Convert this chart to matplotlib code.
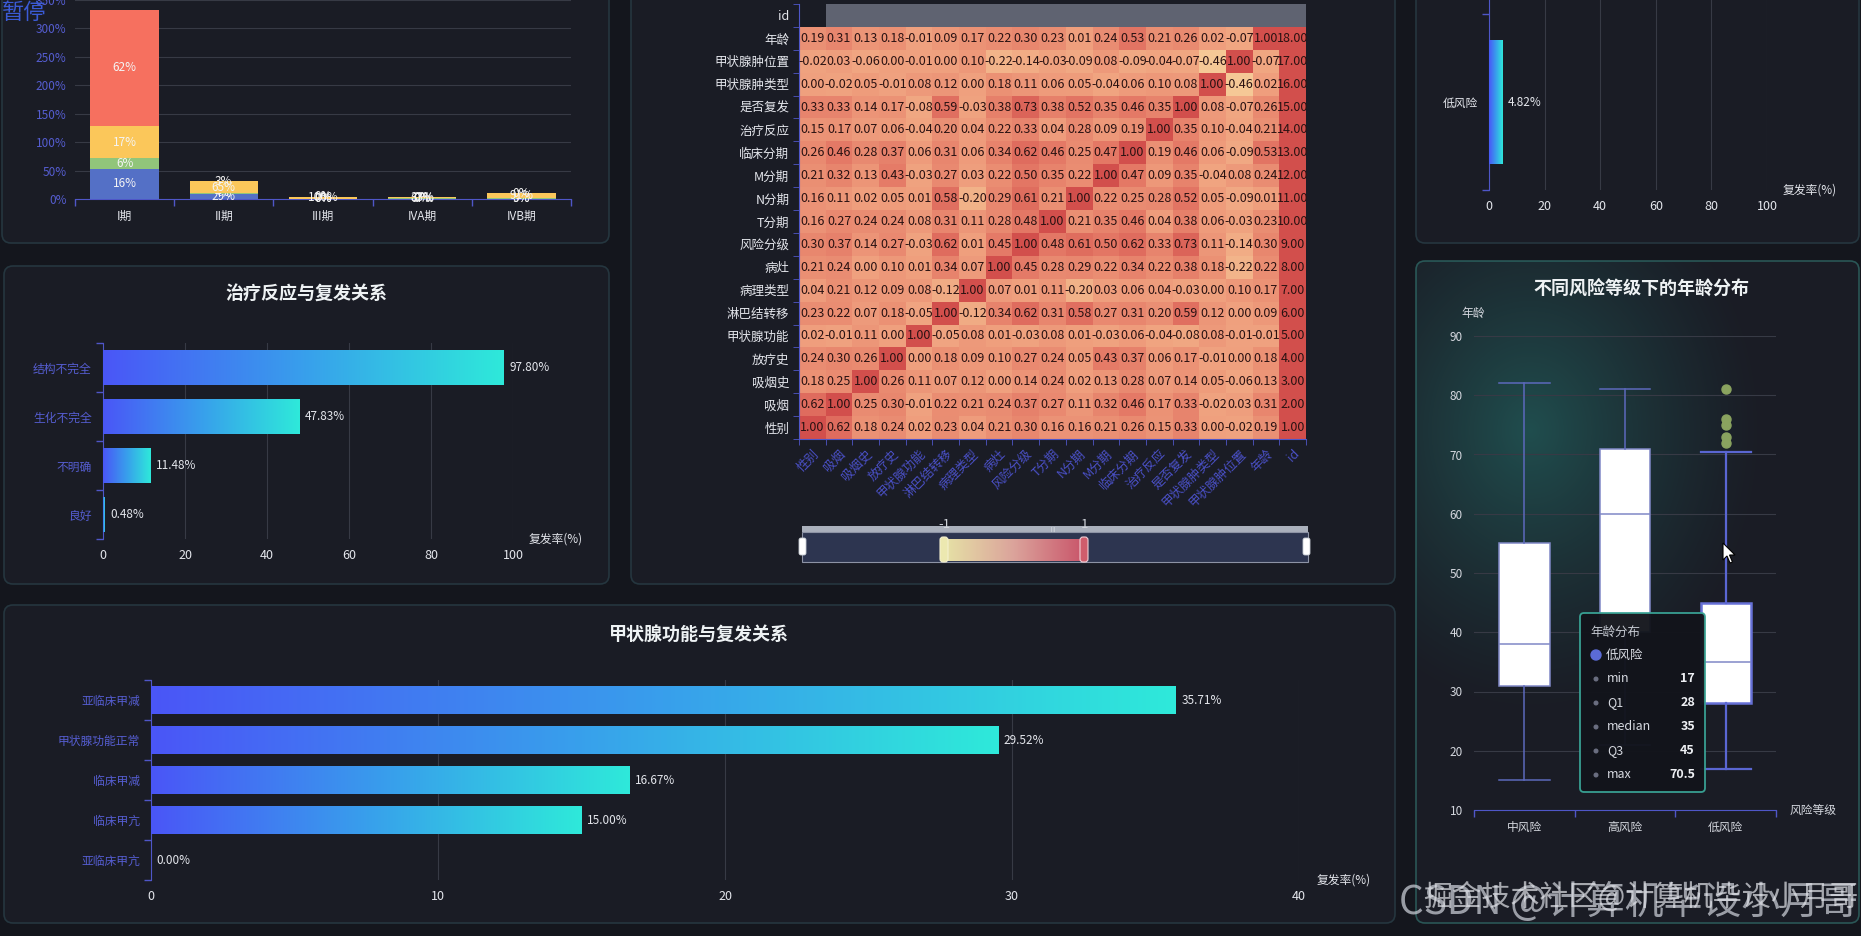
import numpy as np
import matplotlib
matplotlib.use('Agg')
import matplotlib.pyplot as plt
from matplotlib.patches import FancyBboxPatch, Rectangle, Polygon, Circle
from matplotlib.colors import LinearSegmentedColormap, ListedColormap, to_rgb

plt.rcParams['font.family'] = ['Noto Sans CJK SC', 'DejaVu Sans']
plt.rcParams['axes.unicode_minus'] = False

# ---- data ----
stages = ['I期', 'II期', 'III期', 'IVA期', 'IVB期']
seg_1 = [53, 9.1, 0, 0, 0]
seg_2 = [19, 1.2, 0, 2.0, 0.9]
seg_3 = [56, 20.5, 4.0, 1.0, 9.6]
seg_4 = [205, 0.8, 0, 0, 0]

response_cats = ['良好', '不明确', '生化不完全', '结构不完全']
response_rate = [0.48, 11.48, 47.83, 97.80]

thyroid_cats = ['亚临床甲亢', '临床甲亢', '临床甲减', '甲状腺功能正常', '亚临床甲减']
thyroid_rate = [0.00, 15.00, 16.67, 29.52, 35.71]

risk_rate_cats = ['低风险']
risk_rate = [4.82]

features = ['性别', '吸烟', '吸烟史', '放疗史', '甲状腺功能', '淋巴结转移', '病理类型', '病灶',
            '风险分级', 'T分期', 'N分期', 'M分期', '临床分期', '治疗反应', '是否复发',
            '甲状腺肿类型', '甲状腺肿位置', '年龄', 'id']
corr = [
    [1.00, 0.62, 0.18, 0.24, 0.02, 0.23, 0.04, 0.21, 0.30, 0.16, 0.16, 0.21, 0.26, 0.15, 0.33, 0.00, -0.02, 0.19, 1.00],
    [0.62, 1.00, 0.25, 0.30, -0.01, 0.22, 0.21, 0.24, 0.37, 0.27, 0.11, 0.32, 0.46, 0.17, 0.33, -0.02, 0.03, 0.31, 2.00],
    [0.18, 0.25, 1.00, 0.26, 0.11, 0.07, 0.12, 0.00, 0.14, 0.24, 0.02, 0.13, 0.28, 0.07, 0.14, 0.05, -0.06, 0.13, 3.00],
    [0.24, 0.30, 0.26, 1.00, 0.00, 0.18, 0.09, 0.10, 0.27, 0.24, 0.05, 0.43, 0.37, 0.06, 0.17, -0.01, 0.00, 0.18, 4.00],
    [0.02, -0.01, 0.11, 0.00, 1.00, -0.05, 0.08, 0.01, -0.03, 0.08, 0.01, -0.03, 0.06, -0.04, -0.08, 0.08, -0.01, -0.01, 5.00],
    [0.23, 0.22, 0.07, 0.18, -0.05, 1.00, -0.12, 0.34, 0.62, 0.31, 0.58, 0.27, 0.31, 0.20, 0.59, 0.12, 0.00, 0.09, 6.00],
    [0.04, 0.21, 0.12, 0.09, 0.08, -0.12, 1.00, 0.07, 0.01, 0.11, -0.20, 0.03, 0.06, 0.04, -0.03, 0.00, 0.10, 0.17, 7.00],
    [0.21, 0.24, 0.00, 0.10, 0.01, 0.34, 0.07, 1.00, 0.45, 0.28, 0.29, 0.22, 0.34, 0.22, 0.38, 0.18, -0.22, 0.22, 8.00],
    [0.30, 0.37, 0.14, 0.27, -0.03, 0.62, 0.01, 0.45, 1.00, 0.48, 0.61, 0.50, 0.62, 0.33, 0.73, 0.11, -0.14, 0.30, 9.00],
    [0.16, 0.27, 0.24, 0.24, 0.08, 0.31, 0.11, 0.28, 0.48, 1.00, 0.21, 0.35, 0.46, 0.04, 0.38, 0.06, -0.03, 0.23, 10.00],
    [0.16, 0.11, 0.02, 0.05, 0.01, 0.58, -0.20, 0.29, 0.61, 0.21, 1.00, 0.22, 0.25, 0.28, 0.52, 0.05, -0.09, 0.01, 11.00],
    [0.21, 0.32, 0.13, 0.43, -0.03, 0.27, 0.03, 0.22, 0.50, 0.35, 0.22, 1.00, 0.47, 0.09, 0.35, -0.04, 0.08, 0.24, 12.00],
    [0.26, 0.46, 0.28, 0.37, 0.06, 0.31, 0.06, 0.34, 0.62, 0.46, 0.25, 0.47, 1.00, 0.19, 0.46, 0.06, -0.09, 0.53, 13.00],
    [0.15, 0.17, 0.07, 0.06, -0.04, 0.20, 0.04, 0.22, 0.33, 0.04, 0.28, 0.09, 0.19, 1.00, 0.35, 0.10, -0.04, 0.21, 14.00],
    [0.33, 0.33, 0.14, 0.17, -0.08, 0.59, -0.03, 0.38, 0.73, 0.38, 0.52, 0.35, 0.46, 0.35, 1.00, 0.08, -0.07, 0.26, 15.00],
    [0.00, -0.02, 0.05, -0.01, 0.08, 0.12, 0.00, 0.18, 0.11, 0.06, 0.05, -0.04, 0.06, 0.10, 0.08, 1.00, -0.46, 0.02, 16.00],
    [-0.02, 0.03, -0.06, 0.00, -0.01, 0.00, 0.10, -0.22, -0.14, -0.03, -0.09, 0.08, -0.09, -0.04, -0.07, -0.46, 1.00, -0.07, 17.00],
    [0.19, 0.31, 0.13, 0.18, -0.01, 0.09, 0.17, 0.22, 0.30, 0.23, 0.01, 0.24, 0.53, 0.21, 0.26, 0.02, -0.07, 1.00, 18.00],
]
id_row_shade = [0] + [1] * 18

box_cats = ['中风险', '高风险', '低风险']
box_min = [15, 21, 17]
box_q1 = [31, 40, 28]
box_median = [38, 60, 35]
box_q3 = [55, 71, 45]
box_max = [82, 81, 70.5]
box_outliers = [[], [], [72, 73, 75, 76, 81]]

# ---- styling ----
W, H = 1861, 936
BG = '#14161d'
PANEL = '#1a1c25'
EDGE = '#25363f'
AXIS_BLUE = '#4f56c8'
LABEL_BLUE = '#555dd0'
GRID = '#373a45'
TXT = '#e4e6ec'
seg_colors = ['#5470c6', '#91c57a', '#fbc75a', '#f6705f']

bar_cmap = LinearSegmentedColormap.from_list('bar', ['#4a56f7', '#389fec', '#2ee9da'])
heat_cmap = LinearSegmentedColormap.from_list('heat', ['#f7eeb0', '#f5cc98', '#efa07e', '#e37664', '#d24f4c'])
slider_cmap = LinearSegmentedColormap.from_list('sl', ['#e6e2a6', '#dba39b', '#c9556a'])
grad = np.linspace(0, 1, 256).reshape(1, -1)


def rect(x0, y0, x1, y1):
    return [x0 / W, 1 - y1 / H, (x1 - x0) / W, (y1 - y0) / H]


fig = plt.figure(figsize=(W / 100, H / 100), dpi=100, facecolor=BG)

bg = fig.add_axes([0, 0, 1, 1])
bg.set_xlim(0, W)
bg.set_ylim(H, 0)
bg.set_autoscale_on(False)
bg.axis('off')

panels = [(2, -20, 609, 243), (4, 266, 609, 584), (4, 605, 1395, 923),
          (631, -20, 1395, 584), (1416, -20, 1859, 243), (1416, 261, 1859, 923)]
patches = []
for x0, y0, x1, y1 in panels:
    p = FancyBboxPatch((x0, y0), x1 - x0, y1 - y0, boxstyle='round,pad=0,rounding_size=9',
                       fc=PANEL, ec=EDGE, lw=1.2)
    bg.add_patch(p)
    patches.append(p)
patches[-1].set_edgecolor('#2a5656')

# teal glow in the box plot panel
yy, xx = np.mgrid[261:923, 1416:1859]
d = np.hypot((xx - 1530) / 240, (yy - 430) / 290)
glow = np.zeros(xx.shape + (4,))
glow[..., :3] = to_rgb('#268078')
glow[..., 3] = np.clip(1 - d, 0, 1) ** 1.3 * 0.5
im = bg.imshow(glow, extent=(1416, 1859, 923, 261), zorder=1)
im.set_clip_path(patches[-1])

# titles
for (x, y, t) in [(306, 293, '治疗反应与复发关系'), (699, 634, '甲状腺功能与复发关系'),
                  (1641, 289, '不同风险等级下的年龄分布')]:
    bg.text(x, y, t, ha='center', va='center', color='#eef2f4', fontsize=13, fontweight='bold', zorder=3)


def style_cat_axis(ax, n, axis='y'):
    bounds = np.arange(n + 1) - 0.5
    if axis == 'y':
        ax.set_yticks(bounds, minor=True)
        ax.tick_params(axis='y', which='minor', length=5, color=AXIS_BLUE, width=1)
        ax.tick_params(axis='y', which='major', length=0, pad=8)
    else:
        ax.set_xticks(bounds, minor=True)
        ax.tick_params(axis='x', which='minor', length=5, color=AXIS_BLUE, width=1)
        ax.tick_params(axis='x', which='major', length=0, pad=8)


def grad_barh(ax, vals, h=0.7):
    for i, v in enumerate(vals):
        if v > 0:
            ax.imshow(grad, cmap=bar_cmap, extent=(0, v, i - h / 2, i + h / 2),
                      aspect='auto', zorder=3, interpolation='bicubic')
        ax.annotate(f'{v:.2f}%', (v, i), xytext=(4, 0), textcoords='offset points',
                    va='center', ha='left', color=TXT, fontsize=8.5, zorder=4)


def base_barh_axes(ax, cats, xmax, step, label_color):
    ax.set_facecolor('none')
    ax.set_xlim(0, xmax)
    ax.set_ylim(-0.5, len(cats) - 0.5)
    ax.set_xticks(np.arange(0, xmax + 1, step))
    ax.set_yticks(range(len(cats)), cats)
    style_cat_axis(ax, len(cats), 'y')
    ax.tick_params(axis='y', colors=label_color, labelsize=8.5)
    ax.tick_params(axis='y', which='minor', color=AXIS_BLUE)
    ax.tick_params(axis='x', length=0, colors=TXT, labelsize=9, pad=7)
    ax.xaxis.grid(True, color=GRID, lw=0.8)
    ax.set_axisbelow(True)
    for s in ['top', 'right', 'bottom']:
        ax.spines[s].set_visible(False)
    ax.spines['left'].set_color(AXIS_BLUE)


# ---- panel 1: stacked bars by stage ----
ax1 = fig.add_axes(rect(75, 0, 571, 199))
ax1.set_facecolor('none')
xs = np.arange(len(stages))
totals = np.sum([seg_1, seg_2, seg_3, seg_4], axis=0)
bottom = np.zeros(len(stages))
for seg, col in zip([seg_1, seg_2, seg_3, seg_4], seg_colors):
    vals = np.array(seg, dtype=float)
    bars = ax1.bar(xs, vals, 0.69, bottom=bottom, color=col, zorder=3)
    labels = [f'{v / t * 100:.0f}%' for v, t in zip(vals, totals)]
    ax1.bar_label(bars, labels=labels, label_type='center', color='#f4f4f4', fontsize=8.5)
    bottom += vals
ax1.set_xlim(-0.5, len(stages) - 0.5)
ax1.set_ylim(0, 350)
ax1.set_yticks(range(0, 351, 50), [f'{v}%' for v in range(0, 351, 50)])
ax1.set_xticks(xs, stages)
style_cat_axis(ax1, len(stages), 'x')
ax1.tick_params(axis='x', colors=TXT, labelsize=8.5)
ax1.tick_params(axis='x', which='minor', color=AXIS_BLUE)
ax1.tick_params(axis='y', length=0, colors=LABEL_BLUE, labelsize=8.5, pad=6)
ax1.yaxis.grid(True, color=GRID, lw=0.8)
ax1.set_axisbelow(True)
for s in ['top', 'right', 'left']:
    ax1.spines[s].set_visible(False)
ax1.spines['bottom'].set_color(AXIS_BLUE)

# ---- panel 2: treatment response ----
ax2 = fig.add_axes(rect(103, 343, 513, 539))
grad_barh(ax2, response_rate)
base_barh_axes(ax2, response_cats, 100, 20, LABEL_BLUE)
ax2.text(1.037, 0.0, '复发率(%)', transform=ax2.transAxes, ha='left', va='center', color=TXT, fontsize=8.5)

# ---- panel 3: thyroid function ----
ax3 = fig.add_axes(rect(151, 680, 1299, 880))
grad_barh(ax3, thyroid_rate)
base_barh_axes(ax3, thyroid_cats, 40, 10, LABEL_BLUE)
ax3.text(1.015, 0.0, '复发率(%)', transform=ax3.transAxes, ha='left', va='center', color=TXT, fontsize=8.5)

# ---- panel 5: risk level recurrence (mostly scrolled away) ----
ax5 = fig.add_axes(rect(1489, -338, 1767, 190))
grad_barh(ax5, risk_rate)
base_barh_axes(ax5, risk_rate_cats, 100, 20, TXT)
ax5.set_ylim(-0.5, 2.5)
ax5.set_yticks(np.arange(4) - 0.5, minor=True)
ax5.text(1.055, 0.0, '复发率(%)', transform=ax5.transAxes, ha='left', va='center', color=TXT, fontsize=8.5)

# ---- panel 4: correlation heatmap ----
axh = fig.add_axes(rect(799, 4, 1306, 439))
axh.set_facecolor('none')
n = len(features)
M = np.array(corr)
axh.pcolormesh(np.arange(n + 1), np.arange(n), M, cmap=heat_cmap, vmin=-1, vmax=1)
axh.pcolormesh(np.arange(n + 1), [n - 1, n], np.ma.masked_equal([id_row_shade], 0),
               cmap=ListedColormap(['#5f6371']))
for r, row in enumerate(corr):
    for c, v in enumerate(row):
        axh.text(c + 0.5, r + 0.5, f'{v:.2f}', ha='center', va='center', fontsize=9, color='#2a1212')
axh.set_xlim(0, n)
axh.set_ylim(0, n)
axh.set_xticks(np.arange(n) + 0.5)
axh.set_xticklabels(features, rotation=45, ha='right', va='top', rotation_mode='anchor')
axh.set_yticks(np.arange(n) + 0.5, features)
axh.set_xticks(np.arange(n + 1), minor=True)
axh.set_yticks(np.arange(n + 1), minor=True)
axh.tick_params(which='major', length=0)
axh.tick_params(axis='x', which='major', colors='#4a50c6', labelsize=9, pad=6)
axh.tick_params(axis='y', which='major', colors=TXT, labelsize=9, pad=7)
axh.tick_params(which='minor', length=4, color=AXIS_BLUE)
for s in ['top', 'right']:
    axh.spines[s].set_visible(False)
axh.spines['left'].set_color(AXIS_BLUE)
axh.spines['bottom'].set_color(AXIS_BLUE)

# visual map slider
bg.add_patch(Rectangle((802, 526), 506, 6, fc='#aab0bc', ec='none', zorder=3))
bg.add_patch(Rectangle((802, 532), 506, 30, fc='#2d3550', ec='#8d93a5', lw=0.8, zorder=3))
bg.imshow(grad, cmap=slider_cmap, extent=(944, 1084, 561, 539), aspect='auto', zorder=4)
for hx in (799, 1303):
    bg.add_patch(FancyBboxPatch((hx, 538), 7, 17, boxstyle='round,pad=0,rounding_size=2',
                                fc='white', ec='#c8ccd4', lw=0.6, zorder=5))
bg.add_patch(FancyBboxPatch((940, 537), 8, 25, boxstyle='round,pad=0,rounding_size=3',
                            fc='#ece8b0', ec='#f4f0d0', lw=0.8, zorder=5))
bg.add_patch(FancyBboxPatch((1080, 537), 8, 25, boxstyle='round,pad=0,rounding_size=3',
                            fc='#cf5d6c', ec='#f0d0d6', lw=0.8, zorder=5))
bg.text(944, 525, '-1', ha='center', va='center', color='#d0d3da', fontsize=9.5, zorder=6)
bg.text(1084, 525, '1', ha='center', va='center', color='#d0d3da', fontsize=9.5, zorder=6)
bg.text(1054, 529, '≡', ha='center', va='center', color='#d0d3da', fontsize=5, rotation=90, zorder=6)

# ---- panel 6: box plot of age by risk ----
ax6 = fig.add_axes(rect(1474, 336, 1776, 810))
ax6.set_facecolor('none')
stats = [dict(label=c, whislo=lo, q1=a, med=m, q3=b, whishi=hi, fliers=f)
         for c, lo, a, m, b, hi, f in zip(box_cats, box_min, box_q1, box_median, box_q3, box_max, box_outliers)]
bp = ax6.bxp(stats, positions=range(len(box_cats)), widths=0.5, capwidths=0.5, patch_artist=True,
             boxprops=dict(facecolor='white', edgecolor='#8088c6', lw=1.1),
             medianprops=dict(color='#8088c6', lw=1.1),
             whiskerprops=dict(color='#5c69bc', lw=1.1),
             capprops=dict(color='#5c69bc', lw=1.1),
             flierprops=dict(marker='o', markerfacecolor='#8aa35f', markeredgecolor='#8aa35f', markersize=6.5))
bp['boxes'][2].set_edgecolor('#6670d6')
bp['boxes'][2].set_linewidth(1.8)
for k in ('whiskers', 'caps'):
    for art in bp[k][4:6]:
        art.set_linewidth(1.6)
        art.set_color('#5a66d2')
ax6.set_xlim(-0.5, len(box_cats) - 0.5)
ax6.set_ylim(10, 90)
ax6.set_yticks(range(10, 91, 10))
ax6.set_xticks(range(len(box_cats)), box_cats)
style_cat_axis(ax6, len(box_cats), 'x')
ax6.tick_params(axis='x', colors='#d4d7de', labelsize=8.5)
ax6.tick_params(axis='x', which='minor', color=AXIS_BLUE)
ax6.tick_params(axis='y', length=0, colors='#d4d7de', labelsize=8.5, pad=8)
ax6.yaxis.grid(True, color=GRID, lw=0.8)
ax6.set_axisbelow(True)
for s in ['top', 'right', 'left']:
    ax6.spines[s].set_visible(False)
ax6.spines['bottom'].set_color(AXIS_BLUE)
bg.text(1473, 313, '年龄', ha='center', va='center', color='#d4d7de', fontsize=8.5, zorder=3)
ax6.text(1.046, 0.0, '风险等级', transform=ax6.transAxes, ha='left', va='center', color='#d4d7de', fontsize=8.5)

# ---- overlay: tooltip, cursor, pause tag, watermark ----
ov = fig.add_axes([0, 0, 1, 1], zorder=10)
ov.set_xlim(0, W)
ov.set_ylim(H, 0)
ov.set_autoscale_on(False)
ov.axis('off')
ov.patch.set_alpha(0)

ov.add_patch(FancyBboxPatch((1580, 613), 125, 179, boxstyle='round,pad=0,rounding_size=4',
                            fc='#12141b', ec='#3aa597', lw=1.3, alpha=0.96))
ov.text(1590, 632, '年龄分布', ha='left', va='center', color='#c4c8d0', fontsize=9)
ov.add_patch(Circle((1596, 655), 5, color='#5b6bd6'))
ov.text(1606, 655, box_cats[2], ha='left', va='center', color='#dadde4', fontsize=9)
tip_names = ['min', 'Q1', 'median', 'Q3', 'max']
tip_vals = [box_min[2], box_q1[2], box_median[2], box_q3[2], box_max[2]]
for k, (nm, v) in enumerate(zip(tip_names, tip_vals)):
    y = 679 + k * 24
    ov.add_patch(Circle((1596, y), 1.8, color='#6a6e80'))
    ov.text(1607, y, nm, ha='left', va='center', color='#d6d9e0', fontsize=9)
    ov.text(1695, y, f'{v:g}', ha='right', va='center', color='#eef0f4', fontsize=9, fontweight='bold')

cx, cy = 1723, 543
cursor = [(0, 0), (0, 17), (4, 13), (7, 20), (9.5, 19), (6.5, 12), (12, 12)]
ov.add_patch(Polygon([(cx + a, cy + b) for a, b in cursor], closed=True, fc='white', ec='black', lw=0.8))

ov.text(2, 12, '暂停', ha='left', va='center', color='#3b5bd6', fontsize=16)

ov.text(1858, 903, 'CSDN @计算机毕设小月哥', ha='right', va='center', color='#c6cad2',
        fontsize=28, alpha=0.75)
ov.text(1858, 898, '掘金技术社区@计算机毕设小月哥', ha='right', va='center', color='#e2e4ea',
        fontsize=21, alpha=0.7)

fig.savefig('out.png', dpi=100, facecolor=BG)
